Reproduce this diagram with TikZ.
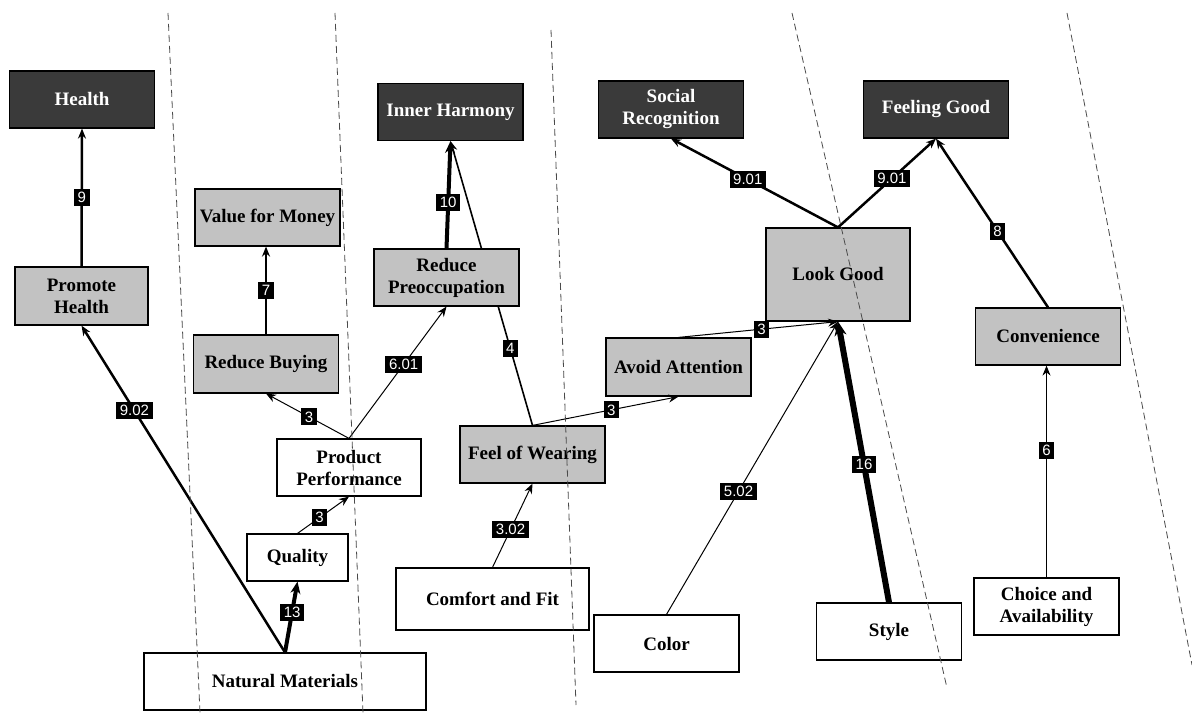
\documentclass[tikz,border=0pt]{standalone}
\usepackage{fontspec}
\setmainfont{Liberation Serif}
\newfontfamily\labelfont{Liberation Sans}
\usetikzlibrary{arrows.meta,backgrounds}
\definecolor{darkbox}{HTML}{3A3A3A}
\definecolor{greybox}{HTML}{C2C2C2}
\definecolor{sepline}{HTML}{4A4A4A}
\begin{document}
\begin{tikzpicture}[x=0.5pt,y=-0.5pt,
  box/.style={draw,line width=0.6pt,inner sep=1pt,align=center,
    font=\fontsize{9.5}{11}\selectfont\bfseries,
    minimum width=72.5pt,minimum height=28.5pt},
  valuebox/.style={box,fill=darkbox,text=white},
  conseqbox/.style={box,fill=greybox},
  attribbox/.style={box,fill=white},
  wt/.style={fill=black,text=white,inner xsep=1.8pt,inner ysep=1.6pt,
    font=\labelfont\fontsize{7.5}{8}\selectfont},
  link/.style={-{Stealth[length=5pt,width=4pt]},line width=0.5pt},
  linkb/.style={link,line width=1.25pt},
  linkc/.style={-{Stealth[length=6pt,width=5pt]},line width=2pt},
  linkd/.style={-{Stealth[length=7pt,width=6pt]},line width=3pt},
  sep/.style={sepline,line width=0.4pt,dash pattern=on 3.5pt off 2pt}]
\useasboundingbox (0,0) rectangle (1192,715);
% values
\node[valuebox] (health) at (82,99.5) {Health};
\node[valuebox] (harmony) at (450.5,112) {Inner Harmony};
\node[valuebox] (social) at (671,109.5) {Social\\Recognition};
\node[valuebox] (feelgood) at (936,109.5) {Feeling Good};
% consequences
\node[conseqbox,minimum width=66.5pt,minimum height=29pt] (promote) at (81.5,296) {Promote\\Health};
\node[conseqbox] (money) at (267.5,217.5) {Value for Money};
\node[conseqbox,minimum height=29pt] (buying) at (266,364) {Reduce Buying};
\node[conseqbox] (preocc) at (446.5,277.5) {Reduce\\Preoccupation};
\node[conseqbox,minimum width=72pt,minimum height=46.5pt] (look) at (838,274.5) {Look Good};
\node[conseqbox] (conv) at (1048,336.5) {Convenience};
\node[conseqbox,minimum height=29pt] (avoid) at (678.5,367) {Avoid Attention};
\node[conseqbox] (wearing) at (532.5,454.5) {Feel of Wearing};
% attributes
\node[attribbox,minimum width=72pt] (perf) at (349,467.5) {Product\\Performance};
\node[attribbox,minimum width=50.5pt,minimum height=23.5pt] (quality) at (297.5,557.5) {Quality};
\node[attribbox,minimum width=141pt] (natural) at (285,681.5) {Natural Materials};
\node[attribbox,minimum width=96.5pt,minimum height=31pt] (comfort) at (492.5,599) {Comfort and Fit};
\node[attribbox] (color) at (666.5,643.5) {Color};
\node[attribbox] (style) at (889,631.5) {Style};
\node[attribbox] (choice) at (1046.5,606.5) {Choice and\\Availability};
%
\begin{pgfonlayer}{background}
\draw[link,line width=0.8pt] (wearing.north) -- node[wt,pos=0.27]{4} (harmony.south);
\end{pgfonlayer}
%
\draw[linkb] (promote.north) -- node[wt]{9} (health.south);
\draw[linkb] (natural.north) -- node[wt,pos=0.74]{9.02} (promote.south);
\draw[linkc] (natural.north) -- node[wt,pos=0.57]{13} (quality.south);
\draw[link] (quality.north) -- node[wt,pos=0.43]{3} (perf.south);
\draw[link] (perf.north) -- node[wt,pos=0.48]{3} (buying.south);
\draw[link] (perf.north) -- node[wt,pos=0.56]{6.01} (preocc.south);
\draw[linkb] (buying.north) -- node[wt]{7} (buying.north |- money.south);
\draw[linkc] (preocc.north) -- node[wt,pos=0.43]{10} (harmony.south);
\draw[link] (wearing.north) -- node[wt,pos=0.54]{3} (avoid.south);
\draw[link] (comfort.north) -- node[wt,pos=0.45]{3.02} (wearing.south);
\draw[link] (avoid.north) -- node[wt,pos=0.52]{3} (look.south);
\draw[link] (color.north) -- node[wt,pos=0.42]{5.02} (look.south);
\draw[linkd] (style.north) -- node[wt,pos=0.49]{16} (look.south);
\draw[linkb] (look.north) -- node[wt,pos=0.54]{9.01} (social.south);
\draw[linkb] (look.north) -- node[wt,pos=0.55]{9.01} (feelgood.south);
\draw[linkb] (conv.north) -- node[wt,pos=0.45]{8} (feelgood.south);
\draw[link] (choice.north) -- node[wt,pos=0.6]{6} (choice.north |- conv.south);
%
\draw[sep] (168,13) -- (200,713);
\draw[sep] (335,13) -- (363,713);
\draw[sep] (551,30) -- (576,705);
\draw[sep] (792,13) -- (947,688);
\draw[sep] (1067,13) -- (1192,665);
\end{tikzpicture}
\end{document}
